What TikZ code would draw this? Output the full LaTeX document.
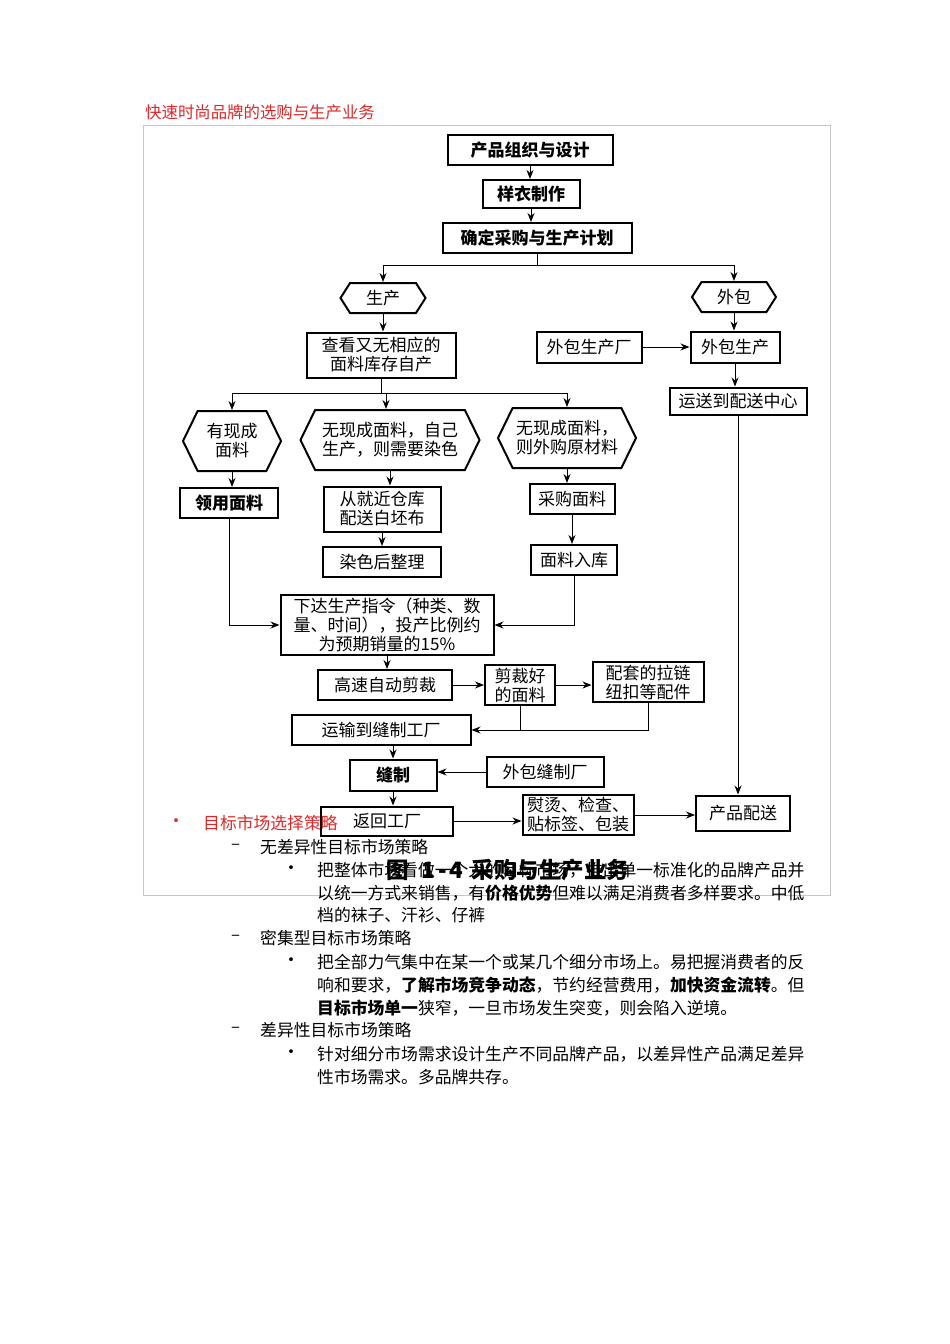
\documentclass[tikz,border=0pt]{standalone}
\usepackage{fontspec}
\setmainfont{Noto Sans CJK SC}
\usetikzlibrary{shapes.symbols,arrows.meta}
\definecolor{titlered}{HTML}{E0282A}
\begin{document}
\begin{tikzpicture}[x=1pt,y=-1pt,
  box/.style={draw, line width=2pt, inner sep=0pt, align=center, font=\fontsize{17}{19}\selectfont},
  bbox/.style={box, font=\bfseries\fontsize{17}{19}\selectfont},
  hexa/.style={draw, line width=2pt, shape=signal, signal to=east and west, inner sep=0pt, align=center, font=\fontsize{17}{19}\selectfont},
  arr/.style={-{Stealth[length=9pt,width=7pt]}, line width=1pt},
  ln/.style={line width=1pt},
  body/.style={anchor=west, inner sep=0pt, font=\fontsize{16.8}{20}\selectfont},
  redtext/.style={body, text=titlered},
  bul/.style={inner sep=0pt, font=\fontsize{18}{20}\selectfont},
]
\useasboundingbox (0,0) rectangle (950,1344);
\fill[white] (0,0) rectangle (950,1344);

% title and frame
\node[redtext, font=\fontsize{16.4}{20}\selectfont] (title) at (145,112) {快速时尚品牌的选购与生产业务};
\draw[gray!45, line width=0.8pt] (143,125) rectangle (830,895);

% flowchart
\node[bbox, minimum width=165pt, minimum height=30pt] (n1) at (530,150) {产品组织与设计};
\node[bbox, minimum width=97pt, minimum height=28pt] (n2) at (531,194) {样衣制作};
\node[bbox, minimum width=189pt, minimum height=30pt] (n3) at (537,238) {确定采购与生产计划};
\node[hexa, signal pointer angle=115, minimum width=85pt, minimum height=30pt] (h0) at (383,298) {生产};
\node[hexa, signal pointer angle=115, minimum width=84pt, minimum height=30pt] (hw) at (734,297) {外包};
\node[box, minimum width=149pt, minimum height=45pt] (n6) at (381,355) {查看又无相应的\\面料库存自产};
\node[box, minimum width=105pt, minimum height=31pt] (n7) at (589,347) {外包生产厂};
\node[box, minimum width=89pt, minimum height=31pt] (n8) at (735,347) {外包生产};
\node[box, minimum width=137pt, minimum height=27pt] (n9) at (738,401) {运送到配送中心};

\node[hexa, signal pointer angle=128, minimum width=98pt, minimum height=60pt] (h1) at (232,441) {有现成\\面料};
\node[hexa, signal pointer angle=128, minimum width=179pt, minimum height=60pt] (h2) at (390,440) {无现成面料，自己\\生产，则需要染色};
\node[hexa, signal pointer angle=128, minimum width=138pt, minimum height=60pt] (h3) at (567,438) {无现成面料，\\则外购原材料};

\node[bbox, minimum width=98pt, minimum height=30pt] (n13) at (229,503) {领用面料};
\node[box, minimum width=117pt, minimum height=45pt] (n14) at (382,509) {从就近仓库\\配送白坯布};
\node[box, minimum width=85pt, minimum height=30pt] (n15) at (572,499) {采购面料};
\node[box, minimum width=118pt, minimum height=30pt] (n16) at (382,562) {染色后整理};
\node[box, minimum width=86pt, minimum height=30pt] (n17) at (574,560) {面料入库};

\node[box, minimum width=213pt, minimum height=60pt] (n18) at (387,625) {下达生产指令（种类、数\\量、时间），投产比例约\\为预期销量的15\%};
\node[box, minimum width=134pt, minimum height=30pt] (n19) at (385,685) {高速自动剪裁};
\node[box, minimum width=70pt, minimum height=40pt] (n20) at (520,685) {剪裁好\\的面料};
\node[box, minimum width=111pt, minimum height=40pt] (n21) at (648,682) {配套的拉链\\纽扣等配件};
\node[box, minimum width=179pt, minimum height=30pt] (n22) at (381,730) {运输到缝制工厂};
\node[bbox, minimum width=87pt, minimum height=31pt] (n23) at (393,775) {缝制};
\node[box, minimum width=117pt, minimum height=30pt] (n24) at (545,772) {外包缝制厂};
\node[box, minimum width=132pt, minimum height=29pt] (n25) at (387,821) {返回工厂};
\node[box, minimum width=111pt, minimum height=40pt] (n26) at (578,815) {熨烫、检查、\\贴标签、包装};
\node[box, minimum width=94pt, minimum height=35pt] (n27) at (743,813) {产品配送};

% connectors
\draw[arr] (n1.south) -- (n1.south |- n2.north);
\draw[arr] (n2.south) -- (n2.south |- n3.north);
\coordinate (j1) at (537,265);
\draw[ln] (n3.south) -- (j1);
\draw[arr] (j1) -| (h0.north);
\draw[arr] (j1) -| (hw.north);
\draw[arr] (h0.south) -- (h0.south |- n6.north);
\draw[arr] (hw.south) -- (hw.south |- n8.north);
\draw[arr] (n7.east) -- (n8.west);
\draw[arr] (n8.south) -- (n8.south |- n9.north);
\draw[arr] (n9.south) -- (n9.south |- n27.north);

\coordinate (j2) at (386,393);
\draw[ln] (n6.south) |- (j2);
\draw[arr] (j2) -| (h1.north);
\draw[arr] (j2) -- (j2 |- h2.north);
\draw[arr] (j2) -| (h3.north);
\draw[arr] (h1.south) -- (h1.south |- n13.north);
\draw[arr] (h2.south) -- (h2.south |- n14.north);
\draw[arr] (h3.south) -- (h3.south |- n15.north);
\draw[arr] (n14.south) -- (n14.south |- n16.north);
\draw[arr] (n15.south) -- (n15.south |- n17.north);
\draw[arr] (n13.south) |- (n18.west);
\draw[arr] (n17.south) |- (n18.east);
\draw[arr] (n18.south) -- (n18.south |- n19.north);
\draw[arr] (n19.east) -- (n20.west);
\draw[arr] (n20.east) -- (n20.east -| n21.west);
\draw[ln] (n20.south) -- (n20.south |- n22.east);
\draw[arr] (n21.south) |- (n22.east);
\draw[arr] (n22.south -| n23.north) -- (n23.north);
\draw[arr] (n24.west) -- (n24.west -| n23.east);
\draw[arr] (n23.south) -- (n23.south |- n25.north);
\draw[arr] (n25.east) -- (n25.east -| n26.west);
\draw[arr] (n26.east) -- (n26.east -| n27.west);

% body text
\node[bul, text=titlered] (b0) at (176,823) {•};
\node[redtext] (t0) at (203,823) {目标市场选择策略};
\node[body] (d1) at (231,847) {–};
\node[body] (t1) at (260,847) {无差异性目标市场策略};
\node[bul] (b1) at (291,870) {•};
\node[body] (t11) at (317,870) {把整体市场看做一个大的目标市场，推出单一标准化的品牌产品并};
\node[body] (t12) at (317,893) {以统一方式来销售，有\textbf{价格优势}但难以满足消费者多样要求。中低};
\node[body] (t13) at (317,915) {档的袜子、汗衫、仔裤};
\node[body] (d2) at (231,938) {–};
\node[body] (t2) at (260,938) {密集型目标市场策略};
\node[bul] (b2) at (291,962) {•};
\node[body] (t21) at (317,962) {把全部力气集中在某一个或某几个细分市场上。易把握消费者的反};
\node[body] (t22) at (317,985) {响和要求，\textbf{了解市场竞争动态}，节约经营费用，\textbf{加快资金流转}。但};
\node[body] (t23) at (317,1008) {\textbf{目标市场单一}狭窄，一旦市场发生突变，则会陷入逆境。};
\node[body] (d3) at (231,1030) {–};
\node[body] (t3) at (260,1030) {差异性目标市场策略};
\node[bul] (b3) at (291,1054) {•};
\node[body] (t31) at (317,1054) {针对细分市场需求设计生产不同品牌产品，以差异性产品满足差异};
\node[body] (t32) at (317,1077) {性市场需求。多品牌共存。};

% caption
\node[inner sep=0pt, font=\bfseries\fontsize{22.5}{26}\selectfont] (cap) at (508,870) {图\hspace{12pt}1\hspace{3pt}-\hspace{3pt}4\hspace{8pt}采购与生产业务};
\end{tikzpicture}
\end{document}
